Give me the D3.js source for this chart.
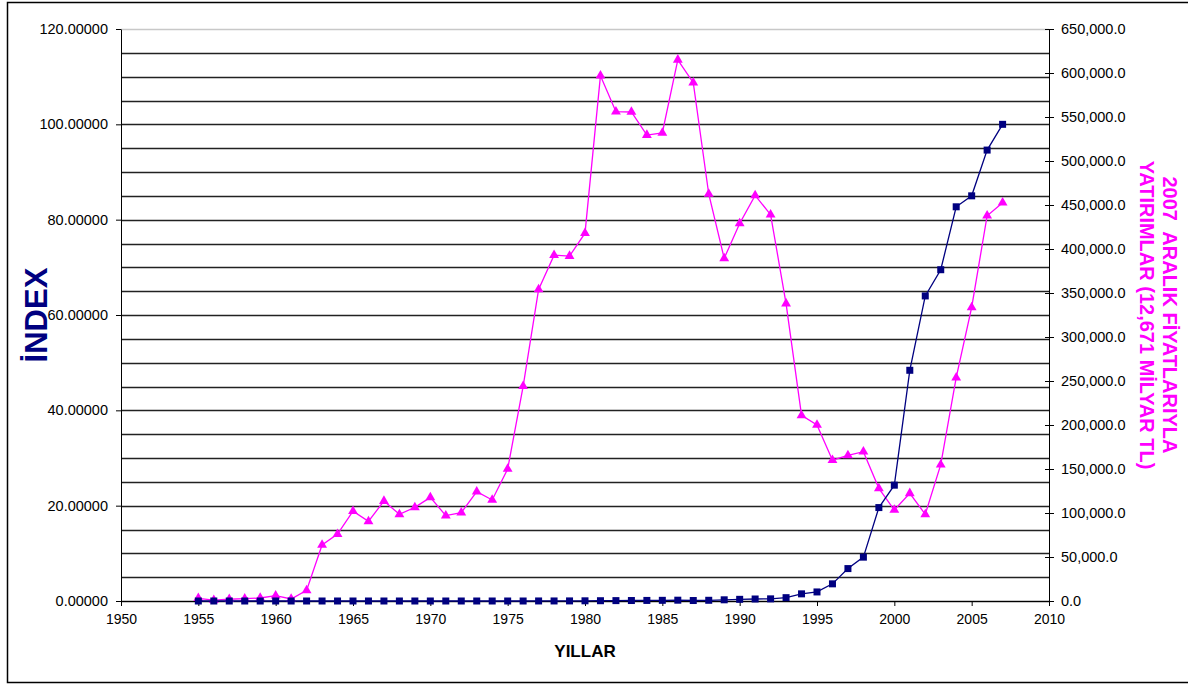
<!DOCTYPE html>
<html>
<head>
<meta charset="utf-8">
<script src="https://cdn.jsdelivr.net/npm/d3@7"></script>
<style>
  body { margin: 0; background: #fff; }
  svg { font-family: "Liberation Sans", Arial, sans-serif; }
  .axis text { font-size: 14.5px; fill: #000; }
  .axis.xaxis text { font-size: 14px; }
  .axis path, .axis line { stroke: #000; }
</style>
</head>
<body>
<div id="chart"></div>
<script>
// years on the x axis
var years = d3.range(1955, 2008);

// index series (left axis, 2007 = 100)
var indexValues = [
  0.00, 0.00, 0.00, 0.00, 0.00, 0.00, 0.00, 0.00, 0.00, 0.00,
  0.00, 0.00, 0.00, 0.00, 0.00, 0.00, 0.00, 0.00, 0.00, 0.00,
  0.00, 0.00, 0.01, 0.01, 0.02, 0.04, 0.06, 0.08, 0.10, 0.12,
  0.14, 0.17, 0.10, 0.15, 0.25, 0.35, 0.42, 0.45, 0.70, 1.50,
  1.90, 3.60, 6.80, 9.20, 19.60, 24.30, 48.40, 64.00, 69.50, 82.70,
  85.00, 94.60, 100.00
];

// investments at Dec 2007 prices (right axis)
var investValues = [
  3100, 1000, 2000, 2600, 3400, 6000, 2300, 12100, 63600, 76000,
  102000, 90500, 113600, 98500, 106400, 117800, 97000, 100400, 124200, 114800,
  150000, 244000, 354000, 393000, 392000, 418000, 597000, 556000, 555700, 529500,
  532000, 615000, 589000, 462500, 389400, 429000, 461000, 439000, 338000, 211000,
  200000, 160000, 165500, 169700, 128000, 103400, 122400, 98500, 155000, 253800,
  333700, 437800, 452600
];

var xTicks = d3.range(1950, 2011, 5);
var leftTicks = d3.range(0, 121, 20);
var rightTicks = d3.range(0, 650001, 50000);
var gridValues = d3.range(0, 121, 5);

var W = 1188, H = 684;
var plot = { left: 121, right: 1049, top: 29, bottom: 601 };

var svg = d3.select('#chart').append('svg')
    .attr('width', W)
    .attr('height', H);

// outer frame
svg.append('rect')
    .attr('x', 7.5).attr('y', 2.5)
    .attr('width', W).attr('height', 680)
    .attr('fill', 'none')
    .attr('stroke', '#000')
    .attr('stroke-width', 1.5);

var x = d3.scaleLinear().domain([1950, 2010]).range([plot.left, plot.right]);
var yL = d3.scaleLinear().domain([0, 120]).range([plot.bottom, plot.top]);
var yR = d3.scaleLinear().domain([0, 650000]).range([plot.bottom, plot.top]);

// horizontal grid lines
svg.append('g')
    .selectAll('line')
    .data(gridValues)
    .enter()
    .append('line')
    .attr('x1', plot.left).attr('x2', plot.right)
    .attr('y1', function (d) { return Math.round(yL(d)) + 0.5; })
    .attr('y2', function (d) { return Math.round(yL(d)) + 0.5; })
    .attr('stroke', function (d) { return d === 120 ? '#c8c8c8' : '#222'; })
    .attr('stroke-width', 1.3);

// left axis
svg.append('g')
    .attr('class', 'axis')
    .attr('transform', 'translate(' + plot.left + ',0)')
    .call(d3.axisLeft(yL).tickValues(leftTicks).tickFormat(d3.format('.5f')).tickSize(5).tickSizeOuter(0).tickPadding(8));

// right axis (ticks cross the line)
var rightAxis = svg.append('g')
    .attr('class', 'axis')
    .attr('transform', 'translate(' + plot.right + ',0)')
    .call(d3.axisRight(yR).tickValues(rightTicks).tickFormat(d3.format(',.1f')).tickSize(5).tickSizeOuter(0).tickPadding(7));
rightAxis.selectAll('.tick line').attr('x1', -4);

// bottom axis
svg.append('g')
    .attr('class', 'axis xaxis')
    .attr('transform', 'translate(0,' + plot.bottom + ')')
    .call(d3.axisBottom(x).tickValues(xTicks).tickFormat(d3.format('d')).tickSize(5).tickSizeOuter(0).tickPadding(8));

// investments line (magenta triangles)
var investData = years.map(function (y, i) { return { year: y, v: investValues[i] }; });
svg.append('path')
    .datum(investData)
    .attr('fill', 'none')
    .attr('stroke', '#FF00FF')
    .attr('stroke-width', 1.3)
    .attr('d', d3.line()
        .x(function (d) { return x(d.year); })
        .y(function (d) { return yR(d.v); }));

svg.selectAll('.tri')
    .data(investData)
    .enter()
    .append('path')
    .attr('class', 'tri')
    .attr('d', d3.symbol().type(d3.symbolTriangle).size(42))
    .attr('transform', function (d) { return 'translate(' + x(d.year) + ',' + yR(d.v) + ')'; })
    .attr('fill', '#FF00FF');

// index line (navy squares)
var indexData = years.map(function (y, i) { return { year: y, v: indexValues[i] }; });
svg.append('path')
    .datum(indexData)
    .attr('fill', 'none')
    .attr('stroke', '#000080')
    .attr('stroke-width', 1.3)
    .attr('d', d3.line()
        .x(function (d) { return x(d.year); })
        .y(function (d) { return yL(d.v); }));

svg.selectAll('.sq')
    .data(indexData)
    .enter()
    .append('rect')
    .attr('class', 'sq')
    .attr('x', function (d) { return x(d.year) - 3.5; })
    .attr('y', function (d) { return yL(d.v) - 3.5; })
    .attr('width', 7)
    .attr('height', 7)
    .attr('fill', '#000080');

// axis titles
svg.append('text')
    .text('İNDEX')
    .attr('transform', 'translate(47,' + ((plot.top + plot.bottom) / 2) + ') rotate(-90)')
    .attr('text-anchor', 'middle')
    .style('font-size', '31px')
    .style('font-weight', 'bold')
    .style('fill', '#000080');

svg.append('text')
    .text('YILLAR')
    .attr('x', (plot.left + plot.right) / 2)
    .attr('y', 657)
    .attr('text-anchor', 'middle')
    .style('font-size', '17px')
    .style('font-weight', 'bold');

var rightTitle = ['2007  ARALIK FİYATLARIYLA', 'YATIRIMLAR (12,671 MİLYAR TL)'];
svg.selectAll('.rtitle')
    .data(rightTitle)
    .enter()
    .append('text')
    .attr('class', 'rtitle')
    .text(function (d) { return d; })
    .attr('transform', function (d, i) { return 'translate(' + (1163 - i * 23) + ',' + ((plot.top + plot.bottom) / 2) + ') rotate(90)'; })
    .attr('text-anchor', 'middle')
    .style('font-size', '20px')
    .style('font-weight', 'bold')
    .style('fill', '#FF00FF')
    .style('white-space', 'pre');
</script>
</body>
</html>
